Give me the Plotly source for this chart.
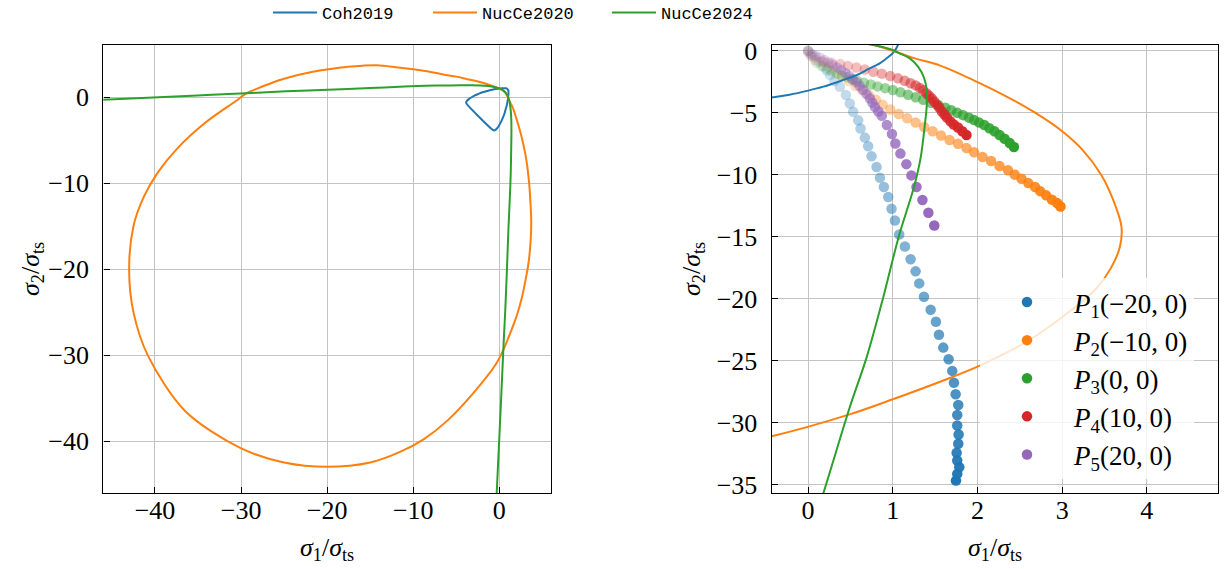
import numpy as np
import plotly.graph_objects as go

BLUE = '#1f77b4'
ORANGE = '#ff7f0e'
GREEN = '#2ca02c'
RED = '#d62728'
PURPLE = '#9467bd'

# ---------------- failure-surface curves ----------------
coh2019_x = [0.95, 1.04, 1.06, 1.05, 1.0, 0.92, 0.85, 0.72, 0.58, 0.4, 0.18, 0.0, -0.22, -0.43, -0.6, -0.75,
             -3.8, -3.86, -3.77, -3.55, -3.22, -2.9, -2.4, -1.95, -1.45, -1.0, -0.65, -0.2, 0.3, 0.5, 0.8, 0.95]
coh2019_y = [0.95, 0.8, 0.5, 0.3, -0.2, -0.65, -1.0, -1.45, -1.95, -2.4, -2.9, -3.22, -3.55, -3.77, -3.86, -3.8,
             -0.75, -0.6, -0.43, -0.22, 0.0, 0.18, 0.4, 0.58, 0.72, 0.85, 0.92, 1.0, 1.05, 1.06, 1.04, 0.95]

nucce2020_x = [0.65, 0.85, 1.0, 1.25, 1.56, 1.95, 2.35, 2.68, 3.0, 3.24, 3.46, 3.6, 3.7, 3.68, 3.57, 3.4,
               3.15, 2.6, 2.06, 1.68, 1.0, 0.49, -0.43, -3.0, -6.0, -8.8, -11.6, -15.0, -20.0, -25.0, -30.1,
               -36.5, -40.8, -42.5, -43.0, -42.5, -41.3, -39.7, -37.45, -34.2, -30.6, -29.34,
               -28.12, -26.38, -25.3, -23.4, -20.7, -19.2, -17.6, -15.86, -14.2, -12.0, -10.0, -8.0,
               -6.5, -5.0, -3.72, -2.37, -1.2, -0.6, 0.0, 0.32, 0.65]
nucce2020_y = [0.65, 0.32, 0.0, -0.6, -1.2, -2.37, -3.72, -5.0, -6.5, -8.0, -10.0, -12.0, -14.2,
               -15.86, -17.6, -19.2, -20.7, -23.4, -25.3, -26.38, -28.12, -29.34, -31.1, -34.4, -37.6,
               -39.8, -41.3, -42.5, -43.0, -42.5, -40.8, -36.5, -30.1, -25.0, -20.0, -15.0, -11.6, -8.8,
               -6.0, -3.0, -0.43, 0.49, 1.0, 1.68, 2.06, 2.6, 3.15, 3.35, 3.55, 3.68, 3.72, 3.5, 3.25,
               2.95, 2.65, 2.4, 2.1, 1.8, 1.45, 1.25, 1.02, 0.85, 0.65]

nucce2024_x = [-47.0, -35.7, -28.8, -24.76, -19.9, -15.0, -11.0, -8.58, -5.88, -4.5, -3.18, -2.2,
               -1.3, -0.62, -0.21, 0.06, 0.3, 0.46, 0.62, 0.77, 0.88, 1.0, 1.08, 1.2, 1.3, 1.37, 1.4, 1.4,
               1.38, 1.33, 1.25, 1.07, 0.887, 0.69, 0.49, 0.18, -0.35]
nucce2024_y = [-0.35, 0.18, 0.49, 0.69, 0.887, 1.07, 1.25, 1.33, 1.38, 1.4, 1.4, 1.37, 1.3, 1.2,
               1.08, 1.0, 0.88, 0.77, 0.62, 0.46, 0.3, 0.06, -0.21, -0.62, -1.3, -2.2, -3.18, -4.5, -5.88,
               -8.58, -11.0, -15.0, -19.9, -24.76, -28.8, -35.7, -47.0]

# ---------------- stress paths P1..P5 ----------------
p1_x = [0.0, 0.04, 0.08, 0.13, 0.18, 0.22, 0.26, 0.31, 0.375, 0.446, 0.493, 0.532, 0.591, 0.619, 0.67, 0.709,
        0.749, 0.808, 0.848, 0.895, 0.946, 0.985, 1.025, 1.076, 1.143, 1.21, 1.269, 1.312, 1.368, 1.447, 1.509,
        1.545, 1.596, 1.659, 1.702, 1.722, 1.742, 1.773, 1.761, 1.761, 1.777, 1.773, 1.754, 1.761, 1.785,
        1.761, 1.746]
p1_y = [0.0, -0.25, -0.55, -0.9, -1.25, -1.6, -1.97, -2.45, -2.91, -3.58, -4.26, -4.93, -5.61, -6.28, -7.01,
        -7.71, -8.52, -9.38, -10.24, -11.0, -11.8, -12.75, -13.7, -14.83, -15.8, -16.83, -17.8, -18.77,
        -19.85, -20.9, -21.87, -22.92, -23.95, -24.89, -25.83, -26.78, -27.72, -28.58, -29.39, -30.23,
        -30.96, -31.71, -32.44, -33.06, -33.6, -34.14, -34.68]

p2_x = [0.0, 0.08, 0.16, 0.24, 0.32, 0.40, 0.48, 0.56, 0.64, 0.72, 0.80, 0.88, 0.97, 1.07, 1.17, 1.27, 1.37,
        1.47, 1.57, 1.67, 1.77, 1.87, 1.96, 2.06, 2.16, 2.26, 2.36, 2.44, 2.52, 2.60, 2.68, 2.74, 2.81, 2.88,
        2.94, 2.98]
p2_y = [0.0, -0.45, -0.85, -1.25, -1.65, -2.05, -2.45, -2.85, -3.2, -3.6, -3.95, -4.35, -4.75, -5.1, -5.45,
        -5.8, -6.15, -6.5, -6.85, -7.2, -7.5, -7.85, -8.2, -8.58, -8.9, -9.3, -9.65, -10.0, -10.33, -10.68,
        -11.0, -11.33, -11.67, -12.03, -12.29, -12.57]

p3_x = [0.0, 0.04, 0.1, 0.16, 0.22, 0.28, 0.34, 0.40, 0.46, 0.52, 0.58, 0.66, 0.74, 0.82, 0.91, 1.0, 1.09,
        1.18, 1.27, 1.36, 1.45, 1.54, 1.62, 1.69, 1.76, 1.83, 1.90, 1.96, 2.02, 2.08, 2.14, 2.20, 2.26, 2.32,
        2.38, 2.43]
p3_y = [0.0, -0.45, -1.0, -1.25, -1.45, -1.65, -1.85, -2.0, -2.15, -2.3, -2.43, -2.58, -2.73, -2.88, -3.02,
        -3.17, -3.35, -3.55, -3.75, -3.95, -4.2, -4.4, -4.6, -4.8, -5.0, -5.2, -5.4, -5.6, -5.8, -6.0, -6.25,
        -6.5, -6.8, -7.1, -7.45, -7.77]

p4_x = [0.0, 0.03, 0.08, 0.18, 0.28, 0.38, 0.47, 0.57, 0.67, 0.77, 0.87, 0.97, 1.06, 1.14, 1.21, 1.27, 1.32,
        1.36, 1.40, 1.43, 1.46, 1.49, 1.52, 1.55, 1.58, 1.61, 1.64, 1.68, 1.72, 1.77, 1.82, 1.87]
p4_y = [0.0, -0.4, -0.75, -0.89, -0.98, -1.08, -1.24, -1.36, -1.51, -1.7, -1.85, -2.05, -2.23, -2.43, -2.62,
        -2.8, -3.0, -3.2, -3.45, -3.65, -3.85, -4.1, -4.35, -4.6, -4.9, -5.15, -5.4, -5.7, -5.95, -6.2, -6.5,
        -6.8]

p5_x = [0.0, 0.0, 0.02, 0.05, 0.09, 0.14, 0.19, 0.24, 0.29, 0.34, 0.39, 0.44, 0.49, 0.53, 0.57, 0.61, 0.65,
        0.69, 0.73, 0.76, 0.79, 0.83, 0.87, 0.93, 0.99, 1.03, 1.09, 1.16, 1.22, 1.28, 1.35, 1.42, 1.49]
p5_y = [0.0, -0.1, -0.2, -0.3, -0.4, -0.55, -0.75, -0.95, -1.15, -1.35, -1.55, -1.8, -2.05, -2.3, -2.55,
        -2.85, -3.15, -3.5, -3.85, -4.2, -4.55, -4.9, -5.25, -6.0, -6.72, -7.49, -8.3, -9.15, -10.06, -11.0,
        -12.05, -13.07, -14.1]

path_labels = ['<i>P</i><sub>1</sub>(\u221220, 0)', '<i>P</i><sub>2</sub>(\u221210, 0)',
               '<i>P</i><sub>3</sub>(0, 0)', '<i>P</i><sub>4</sub>(10, 0)', '<i>P</i><sub>5</sub>(20, 0)']
curve_names = ['Coh2019', 'NucCe2020', 'NucCe2024']

# ---------------- figure ----------------
W, H = 1225, 569
SERIF = 'Liberation Serif'
MONO = 'Liberation Mono'

fig = go.Figure()

paths = [(p1_x, p1_y, BLUE), (p2_x, p2_y, ORANGE), (p3_x, p3_y, GREEN), (p4_x, p4_y, RED), (p5_x, p5_y, PURPLE)]
for (sx, sy, c) in paths:
    fig.add_trace(go.Scatter(
        x=sx, y=sy, mode='markers', xaxis='x2', yaxis='y2', showlegend=False, hoverinfo='skip',
        marker=dict(color=c, size=10.5, opacity=np.linspace(0.1, 1.0, len(sx)), line=dict(width=0))))
for (sx, sy, c), lab in zip(paths, path_labels):
    fig.add_trace(go.Scatter(
        x=[None], y=[None], mode='markers', xaxis='x2', yaxis='y2', name=lab,
        legend='legend2', legendgroup=lab, marker=dict(color=c, size=10.5, line=dict(width=0))))

curves = [(coh2019_x, coh2019_y, BLUE, 'legend'), (nucce2020_x, nucce2020_y, ORANGE, 'legend3'),
          (nucce2024_x, nucce2024_y, GREEN, 'legend4')]
for (cx, cy, c, lg), nm in zip(curves, curve_names):
    for xa, ya, show in (('x', 'y', True), ('x2', 'y2', False)):
        fig.add_trace(go.Scatter(x=cx, y=cy, mode='lines', xaxis=xa, yaxis=ya, name=nm, legend=lg,
                                 showlegend=show, hoverinfo='skip',
                                 line=dict(color=c, width=2, shape='spline', smoothing=0.9)))

ax = dict(showgrid=True, gridcolor='#c4c4c4', gridwidth=1, zeroline=False, showline=True, linecolor='black',
          linewidth=1.4, mirror=True, ticks='inside', ticklen=6, tickwidth=1.2, tickcolor='black',
          tickfont=dict(family=SERIF, size=26, color='black'), automargin=False)

y0, y1 = 1 - 493 / H, 1 - 45 / H
leg_top = dict(y=1 - 13 / H, xanchor='left', yanchor='middle', orientation='h', itemwidth=44,
               font=dict(family=MONO, size=17, color='black'), bgcolor='rgba(0,0,0,0)')
fig.update_layout(
    width=W, height=H, margin=dict(l=0, r=0, t=0, b=0, autoexpand=False),
    plot_bgcolor='white', paper_bgcolor='white',
    xaxis=dict(ax, domain=[103.3 / W, 551 / W], range=[-46.0, 6.0], dtick=10, anchor='y', ticklabelstandoff=-6),
    yaxis=dict(ax, domain=[y0, y1], range=[-46.05, 6.08], dtick=10, anchor='x', ticklabelstandoff=8),
    xaxis2=dict(ax, domain=[771.7 / W, 1218 / W], range=[-0.43, 4.84], dtick=1, anchor='y2', ticklabelstandoff=-6),
    yaxis2=dict(ax, domain=[y0, y1], range=[-35.68, 0.46], dtick=5, anchor='x2', ticklabelstandoff=8),
    legend=dict(leg_top, x=268 / W),
    legend3=dict(leg_top, x=428 / W),
    legend4=dict(leg_top, x=607 / W),
    legend2=dict(x=980 / W, y=1 - 278 / H, xanchor='left', yanchor='top', itemwidth=84, tracegroupgap=0,
                 font=dict(family=SERIF, size=27, color='black'), bgcolor='rgba(255,255,255,0.8)'),
    showlegend=True,
)

title_txt_x = '<i>\u03c3</i><sub>1</sub>/<i>\u03c3</i><sub>ts</sub>'
title_txt_y = '<i>\u03c3</i><sub>2</sub>/<i>\u03c3</i><sub>ts</sub>'
tfont = dict(family=SERIF, size=26, color='black')
for xc in (327, 995):
    fig.add_annotation(text=title_txt_x, xref='paper', yref='paper', x=xc / W, y=1 - 549 / H,
                       xanchor='center', yanchor='middle', showarrow=False, font=tfont)
for xc in (32, 693):
    fig.add_annotation(text=title_txt_y, xref='paper', yref='paper', x=xc / W, y=1 - 269 / H,
                       xanchor='center', yanchor='middle', showarrow=False, font=tfont, textangle=-90)

fig.write_html('out.html')
